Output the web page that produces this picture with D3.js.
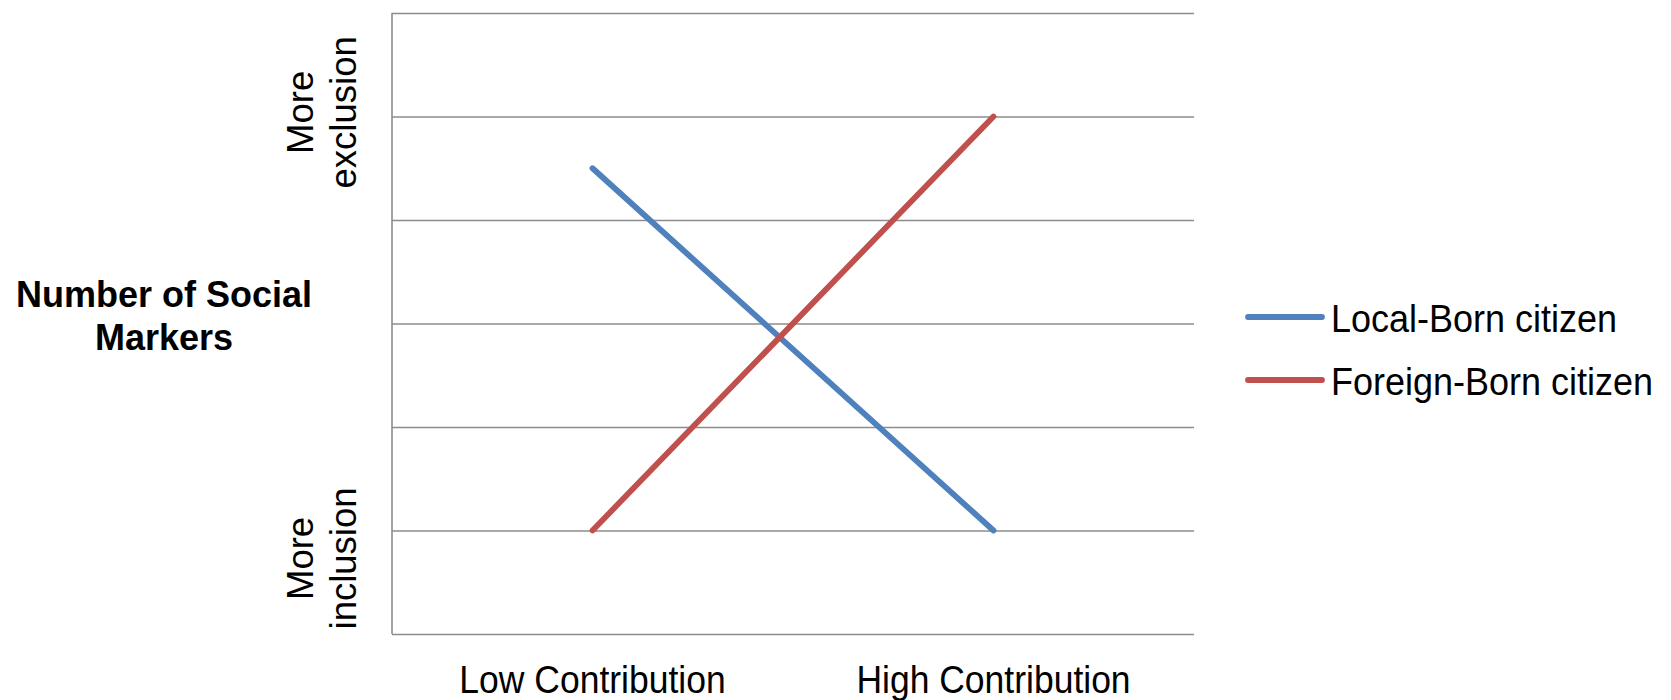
<!DOCTYPE html>
<html>
<head>
<meta charset="utf-8">
<script src="https://cdn.jsdelivr.net/npm/d3@7"></script>
<style>
  html, body { margin: 0; padding: 0; background: #ffffff; }
  svg text { font-family: "Liberation Sans", Arial, sans-serif; fill: #000; }
</style>
</head>
<body>
<svg id="chart" width="1671" height="700"></svg>
<script>
// ---- data ----
const categories = ["Low Contribution", "High Contribution"];
const seriesNames = ["Local-Born citizen", "Foreign-Born citizen"];
const localBorn = [4.5, 1];
const foreignBorn = [1, 5];
const seriesColors = ["#4F81BD", "#C0504D"];
const yTicks = [0, 1, 2, 3, 4, 5, 6];
const yEndLabels = [["More", "exclusion"], ["More", "inclusion"]];
const yEndLabelValues = [5.04, 0.73];
const yTitle = ["Number of Social", "Markers"];

// ---- layout ----
const svg = d3.select("#chart");
const plotLeft = 392, plotRight = 1194, plotTop = 13, plotBottom = 634;
const stretch = 1.08;

const x = d3.scaleBand().domain(categories).range([plotLeft, plotRight]).padding(0);
const y = d3.scaleLinear().domain([0, 6]).range([plotBottom, plotTop]);

// gridlines
const gridAxis = d3.axisLeft(y).tickValues(yTicks).tickSize(-(plotRight - plotLeft)).tickFormat("");
const g = svg.append("g").attr("transform", `translate(${plotLeft},0)`).call(gridAxis);
g.select(".domain").remove();
g.selectAll(".tick line").attr("stroke", "#8c8c8c").attr("stroke-width", 1.6);

// left axis line
svg.append("line")
  .attr("x1", plotLeft).attr("x2", plotLeft).attr("y1", y(6)).attr("y2", y(0))
  .attr("stroke", "#8c8c8c").attr("stroke-width", 1.6);

// x axis labels
const xAxis = d3.axisBottom(x).tickSize(0).tickPadding(0);
const gx = svg.append("g").attr("transform", `translate(0,${plotBottom})`).call(xAxis);
gx.select(".domain").remove();
gx.selectAll(".tick text")
  .attr("y", 0).attr("dy", 0)
  .attr("transform", `translate(0,59) scale(1,${stretch})`)
  .style("font-size", "35.5px")
  .style("font-family", "'Liberation Sans', Arial, sans-serif")
  .attr("fill", "#000");

// lines
const line = d3.line().x((d, i) => x(categories[i]) + x.bandwidth() / 2).y(d => y(d));
[localBorn, foreignBorn].forEach((vals, i) => {
  svg.append("path")
    .datum(vals)
    .attr("d", line)
    .attr("fill", "none")
    .attr("stroke", seriesColors[i])
    .attr("stroke-width", 5.8)
    .attr("stroke-linecap", "round");
});

// rotated end labels
yEndLabels.forEach((lines, i) => {
  const cy = y(yEndLabelValues[i]);
  const t = svg.append("text")
    .attr("transform", `translate(300,${cy}) rotate(-90)`)
    .attr("text-anchor", "middle")
    .style("font-size", "36.5px");
  lines.forEach((s, j) => {
    t.append("tspan").attr("x", 0).attr("y", j === 0 ? 13 : 56).text(s);
  });
});

// y title
const tt = svg.append("text")
  .attr("text-anchor", "middle")
  .style("font-size", "36px")
  .style("font-weight", "bold");
yTitle.forEach((s, j) => {
  tt.append("tspan").attr("x", 164).attr("y", 307 + j * 43).text(s);
});

// legend
const legend = svg.append("g");
seriesNames.forEach((name, i) => {
  const ly = 317 + i * 63;
  legend.append("line")
    .attr("x1", 1248).attr("x2", 1322).attr("y1", ly).attr("y2", ly)
    .attr("stroke", seriesColors[i]).attr("stroke-width", 5.8)
    .attr("stroke-linecap", "round");
  legend.append("text")
    .attr("transform", `translate(1331,${ly + 14.5}) scale(1,${stretch})`)
    .style("font-size", "36px")
    .text(name);
});
</script>
</body>
</html>
